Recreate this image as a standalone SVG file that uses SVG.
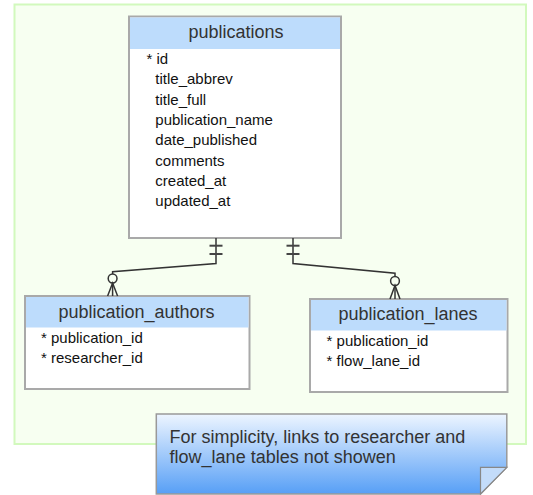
<svg xmlns="http://www.w3.org/2000/svg" width="533" height="495" viewBox="0 0 533 495">
<defs>
<linearGradient id="noteGrad" x1="0" y1="0" x2="0" y2="1">
<stop offset="0" stop-color="#edf5ff"/>
<stop offset="1" stop-color="#579ff6"/>
</linearGradient>
</defs>
<style>
.frame{fill:#f7fff1;stroke:#d2f9bd;stroke-width:2}
.tbl{fill:#ffffff;stroke:#a9a9a9;stroke-width:2}
.hdr{fill:#bddcfc}
.title{font-family:"Liberation Sans",Arial,sans-serif;font-size:18px;fill:#333333;text-anchor:middle}
.row{font-family:"Liberation Sans",Arial,sans-serif;font-size:15px;fill:#111111}
.conn{fill:none;stroke:#333333;stroke-width:1.5}
.bar{fill:none;stroke:#444444;stroke-width:2}
.note{fill:url(#noteGrad);stroke:#999999;stroke-width:1.5}
.fold{fill:#c3dcfa;stroke:#888888;stroke-width:1.2}
.notetext{font-family:"Liberation Sans",Arial,sans-serif;font-size:18px;fill:#333333}
</style>
<rect class="frame" x="14.5" y="4.5" width="511.5" height="439.5"/>

<g id="publications">
<rect class="tbl" x="129" y="16.5" width="212" height="221.5"/>
<rect class="hdr" x="130" y="17.5" width="210" height="31.5"/>
<text class="title" x="236" y="37.5">publications</text>
<text class="row" x="146.5" y="64">* id</text>
<text class="row" x="155.3" y="84.3">title_abbrev</text>
<text class="row" x="155.3" y="104.7">title_full</text>
<text class="row" x="155.3" y="125">publication_name</text>
<text class="row" x="155.3" y="145.3">date_published</text>
<text class="row" x="155.3" y="165.7">comments</text>
<text class="row" x="155.3" y="186">created_at</text>
<text class="row" x="155.3" y="206.3">updated_at</text>
</g>

<g id="publication_authors">
<rect class="tbl" x="25" y="296" width="224.5" height="93"/>
<rect class="hdr" x="26" y="297" width="222.5" height="30.5"/>
<text class="title" x="136.5" y="317.5">publication_authors</text>
<text class="row" x="41" y="343.3">* publication_id</text>
<text class="row" x="41" y="363.3">* researcher_id</text>
</g>

<g id="publication_lanes">
<rect class="tbl" x="310" y="299" width="197.5" height="93"/>
<rect class="hdr" x="311" y="300" width="195.5" height="30.5"/>
<text class="title" x="408" y="320">publication_lanes</text>
<text class="row" x="326.6" y="345.7">* publication_id</text>
<text class="row" x="326.6" y="366">* flow_lane_id</text>
</g>

<g id="connectors">
<polyline class="conn" points="216,238 216,263.5 112.6,271.7 112.6,274"/>
<line class="bar" x1="209.5" y1="245.7" x2="222.5" y2="245.7"/>
<line class="bar" x1="209.5" y1="254" x2="222.5" y2="254"/>
<circle class="conn" cx="112.6" cy="278.5" r="4.4"/>
<polyline class="conn" points="107.6,296 112.6,283 117.6,296"/>
<line class="conn" x1="112.6" y1="283" x2="112.6" y2="296"/>

<polyline class="conn" points="293,238 293,263.5 395,273.3 395,276.5"/>
<line class="bar" x1="286.5" y1="245.7" x2="299.5" y2="245.7"/>
<line class="bar" x1="286.5" y1="254" x2="299.5" y2="254"/>
<circle class="conn" cx="395" cy="281" r="4.4"/>
<polyline class="conn" points="390,299 395,285.5 400,299"/>
<line class="conn" x1="395" y1="285.5" x2="395" y2="299"/>
</g>

<g id="note">
<polygon class="note" points="156.3,414 506.8,414 506.8,467.3 480.5,494 156.3,494"/>
<polygon class="fold" points="480.5,494 480.5,467.3 506.8,467.3"/>
<text class="notetext" x="169.6" y="442.7">For simplicity, links to researcher and</text>
<text class="notetext" x="169.6" y="463.3">flow_lane tables not showen</text>
</g>
</svg>
